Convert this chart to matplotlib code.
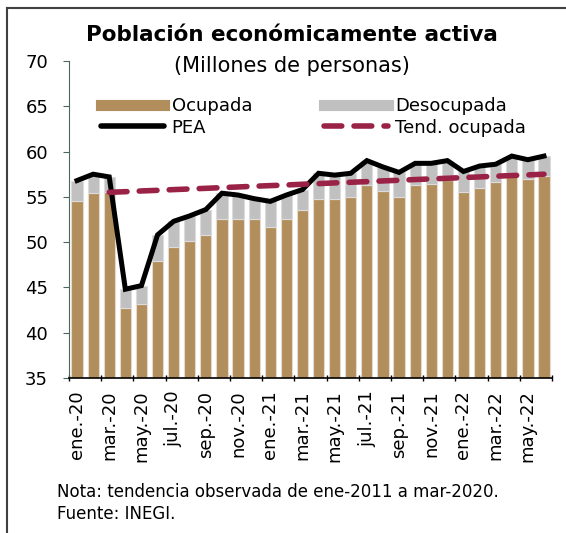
import numpy as np
import matplotlib
matplotlib.use("Agg")
import matplotlib.pyplot as plt
from matplotlib.lines import Line2D

plt.rcParams["font.family"] = ["DejaVu Sans"]

# ── Data (millones de personas) ──────────────────────────────────────────────
months = ["ene.-20", "feb.-20", "mar.-20", "abr.-20", "may.-20", "jun.-20",
          "jul.-20", "ago.-20", "sep.-20", "oct.-20", "nov.-20", "dic.-20",
          "ene.-21", "feb.-21", "mar.-21", "abr.-21", "may.-21", "jun.-21",
          "jul.-21", "ago.-21", "sep.-21", "oct.-21", "nov.-21", "dic.-21",
          "ene.-22", "feb.-22", "mar.-22", "abr.-22", "may.-22", "jun.-22"]

ocupada = [54.5, 55.4, 55.5, 42.7, 43.2, 47.9, 49.5, 50.1, 50.8, 52.6,
           52.6, 52.5, 51.7, 52.6, 53.5, 54.8, 54.8, 55.0, 56.3, 55.6,
           55.0, 56.3, 56.4, 56.9, 55.5, 56.0, 56.6, 57.6, 57.0, 57.3]

desocupada = [2.3, 2.1, 1.7, 2.1, 2.0, 2.9, 2.8, 2.8, 2.8, 2.8,
              2.6, 2.3, 2.8, 2.6, 2.3, 2.8, 2.6, 2.6, 2.7, 2.7,
              2.7, 2.4, 2.3, 2.1, 2.3, 2.4, 2.0, 1.9, 2.1, 2.2]

pea = [56.8, 57.5, 57.2, 44.8, 45.2, 50.8, 52.3, 52.9, 53.6, 55.4,
       55.2, 54.8, 54.5, 55.2, 55.8, 57.6, 57.4, 57.6, 59.0, 58.3,
       57.7, 58.7, 58.7, 59.0, 57.8, 58.4, 58.6, 59.5, 59.1, 59.5]

# tendencia (ene-2011 a mar-2020), desde mar-20
tend_start = 2
tendencia = [55.50, 55.57, 55.65, 55.72, 55.80, 55.87, 55.94, 56.02, 56.09,
             56.17, 56.24, 56.31, 56.39, 56.46, 56.54, 56.61, 56.68, 56.76,
             56.83, 56.91, 56.98, 57.05, 57.13, 57.20, 57.28, 57.35, 57.42,
             57.50]

GOLD = "#B38E5D"
GRAY = "#C0C0C0"
GUINDA = "#9B2247"

# ── Chart ────────────────────────────────────────────────────────────────────
fig = plt.figure(figsize=(5.66, 5.33), dpi=100)
ax = fig.add_axes([0.1219, 0.2908, 0.8534, 0.5948])

x = np.arange(len(months))
ax.bar(x, ocupada, width=0.7, color=GOLD, edgecolor="#E6DACB", lw=0.8, zorder=2)
ax.bar(x, desocupada, width=0.7, bottom=ocupada, color=GRAY,
       edgecolor="#DCDCDC", lw=0.8, zorder=2)
ax.plot(x, pea, color="black", lw=3.6, solid_joinstyle="miter", zorder=4)
xt = x[tend_start:tend_start + len(tendencia)]
ax.plot(xt, tendencia, color=GUINDA, lw=4, ls=(0, (3.2, 2.2)),
        dash_capstyle="round", zorder=5)

ax.set_ylim(35, 70)
ax.set_xlim(-0.5, len(months) - 0.5)
ax.set_yticks(range(35, 71, 5))
ax.tick_params(axis="y", labelsize=13, length=4, color="#4D6660", pad=11)
ax.set_xticks(np.arange(-0.5, len(months), 2))
ax.set_xticklabels([])
ax.tick_params(axis="x", which="major", length=5, direction="inout", width=1)
ax.set_xticks(x[::2], minor=True)
ax.set_xticklabels(months[::2], minor=True, rotation=90, fontsize=13)
ax.tick_params(axis="x", which="minor", length=0, pad=9)

for s in ["top", "right"]:
    ax.spines[s].set_visible(False)
ax.spines["left"].set_color("#4D6660")
ax.spines["bottom"].set_color("black")
ax.spines["bottom"].set_linewidth(1.2)

# ── Legend ───────────────────────────────────────────────────────────────────
handles = [Line2D([], [], color=GOLD, lw=8),
           Line2D([], [], color=GRAY, lw=8),
           Line2D([], [], color="black", lw=4, solid_capstyle="round"),
           Line2D([], [], color=GUINDA, lw=4, ls=(0, (3.2, 2.2)),
                  dash_capstyle="round")]
labels = ["Ocupada", "Desocupada", "PEA", "Tend. ocupada"]
ax.legend([handles[0], handles[2], handles[1], handles[3]],
          [labels[0], labels[2], labels[1], labels[3]],
          ncol=2, frameon=False, fontsize=13, handlelength=3.5,
          handletextpad=0.4, columnspacing=4.0, labelspacing=0.2,
          borderpad=0, loc="upper left", bbox_to_anchor=(0.048, 0.915))

# ── Titles and notes ─────────────────────────────────────────────────────────
fig.text(0.516, 0.934, "Población económicamente activa", ha="center",
         va="center", fontsize=15.5, fontweight="bold")
fig.text(0.516, 0.876, "(Millones de personas)", ha="center", va="center",
         fontsize=15)
fig.text(0.100, 0.077, "Nota: tendencia observada de ene-2011 a mar-2020.",
         fontsize=12, va="center")
fig.text(0.100, 0.036, "Fuente: INEGI.", fontsize=12, va="center")

# frame
fig.add_artist(Line2D([0.013, 1.0], [0.985, 0.985], color="#404040", lw=1.5))
fig.add_artist(Line2D([0.013, 0.013], [0.0, 0.985], color="#404040", lw=1.5))

fig.savefig("out.png", dpi=100)
plt.close()
